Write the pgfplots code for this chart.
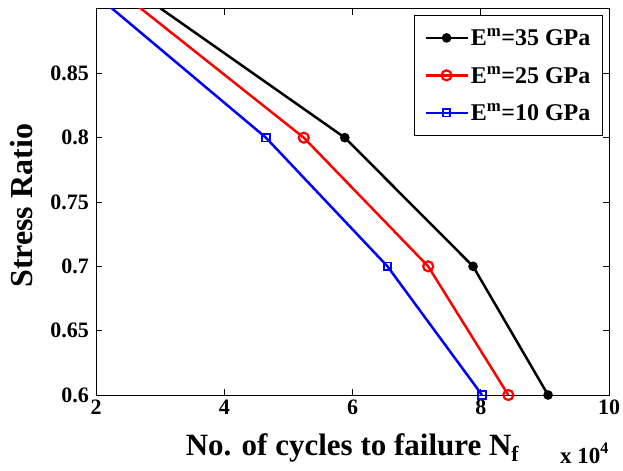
\documentclass[border=0pt]{standalone}
\usepackage{fontspec}
\setmainfont{Liberation Serif}
\usepackage{pgfplots}
\pgfplotsset{compat=1.18}
\begin{document}
\begin{tikzpicture}
\begin{axis}[
    scale only axis,
    width=513pt,
    height=386pt,
    clip mode=individual,
    xmin=2, xmax=10,
    ymin=0.6, ymax=0.9,
    xtick={2,4,6,8,10},
    ytick={0.6,0.65,0.7,0.75,0.8,0.85},
    tick align=inside,
    tick pos=both,
    major tick length=6pt,
    /pgf/number format/assume math mode=true,
    ticklabel style={font=\fontsize{22}{24}\selectfont\bfseries, inner sep=0pt},
    xticklabel style={yshift=-5pt},
    yticklabel style={xshift=-7pt},
    xlabel={No. of cycles to failure N\textsubscript{f}},
    ylabel={Stress Ratio},
    xlabel style={font=\fontsize{31}{34}\selectfont\bfseries, inner sep=0pt,
        at={([yshift=-60pt]rel axis cs:0.5,0)}, anchor=base},
    ylabel style={font=\fontsize{32}{34}\selectfont\bfseries, inner sep=0pt,
        at={([xshift=-86pt]rel axis cs:0,0.49)}, anchor=north},
    axis line style={line width=1pt},
    every tick/.style={black, line width=0.8pt},
    legend style={at={(rel axis cs:0.988,0.984)}, anchor=north east,
        font=\fontsize{24}{27}\selectfont\bfseries, draw=black, line width=1pt,
        inner xsep=10pt, inner ysep=11pt, row sep=15pt, nodes={inner sep=2pt}},
    legend cell align=left,
    legend image code/.code={
        \draw[mark repeat=2, mark phase=2, #1]
            plot coordinates {(0pt,0pt) (21pt,0pt) (42pt,0pt)};},
    legend image post style={line width=2.5pt},
]
\addplot[black, line width=2.5pt, mark=*, mark size=3.5pt, mark options={fill=black}]
    coordinates {(1.59,0.95) (5.88,0.8) (7.88,0.7) (9.05,0.6)};
\addlegendentry{E\textsuperscript{m}=35 GPa}
\addplot[red, line width=2.5pt, mark=o, mark size=5pt, mark options={line width=2.2pt}]
    coordinates {(1.445,0.95) (5.24,0.8) (7.18,0.7) (8.43,0.6)};
\addlegendentry{E\textsuperscript{m}=25 GPa}
\addplot[blue, line width=2.5pt, mark=square, mark size=3.8pt, mark options={line width=1.8pt}]
    coordinates {(1.065,0.95) (4.65,0.8) (6.545,0.7) (8.02,0.6)};
\addlegendentry{E\textsuperscript{m}=10 GPa}
\node[anchor=base east, font=\fontsize{23}{25}\selectfont\bfseries, inner sep=0pt]
    at ([yshift=-68pt]rel axis cs:1,0) {x 10\textsuperscript{4}};
\path ([xshift=-96pt,yshift=-75pt]rel axis cs:0,0) rectangle ([xshift=14pt,yshift=9pt]rel axis cs:1,1);
\end{axis}
\end{tikzpicture}
\end{document}
